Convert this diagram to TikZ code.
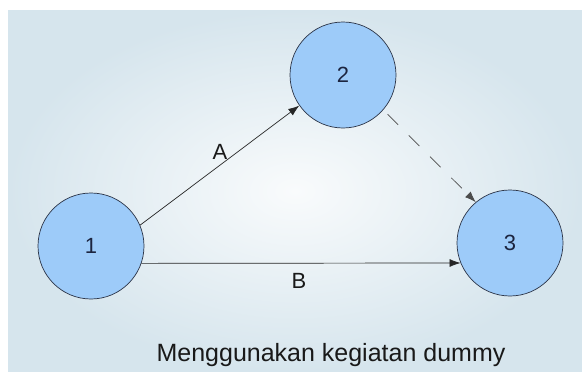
\documentclass[tikz,border=0pt]{standalone}
\usepackage{fontspec}
\setmainfont{Liberation Sans}
\usetikzlibrary{arrows.meta}
\definecolor{nodefill}{HTML}{9DCBF9}
\definecolor{nodeline}{HTML}{2A3346}
\definecolor{numcol}{HTML}{1C2540}
\definecolor{bgedge}{HTML}{D6E5ED}
\definecolor{bgmid}{HTML}{F9FBFC}
\begin{document}
\begin{tikzpicture}[x=1pt,y=-1pt,
  event/.style={circle,draw=nodeline,line width=0.7pt,fill=nodefill,minimum size=106pt,inner sep=0pt,text=numcol,font=\fontsize{22}{26}\selectfont},
  act/.style={draw=black!85,line width=0.7pt,-{Latex[length=11pt,width=8pt]}},
  dummyact/.style={act,draw=black!70,dash pattern=on 15pt off 15pt,shorten <=6pt},
  lbl/.style={font=\fontsize{22}{26}\selectfont,text=black!90,inner sep=0pt},
  captext/.style={font=\fontsize{25}{30}\selectfont,text=black!90,inner sep=0pt}]
\useasboundingbox (0,0) rectangle (582,372);
\fill[white] (0,0) rectangle (582,372);
\shade[inner color=bgmid,outer color=bgedge] (8,10) rectangle (582,372);
\node[event] (n1) at (91,246) {1};
\node[event] (n2) at (343,75) {2};
\node[event] (n3) at (510,243) {3};
\draw[act] (n1.23) -- (n2.215);
\draw[act] (n1.-19) -- (n3.202);
\draw[dummyact] (n2.-41) -- (n3.130);
\node[lbl] (la) at (220,152) {A};
\node[lbl] (lb) at (299,281) {B};
\node[captext] (caption) at (331,355) {Menggunakan kegiatan dummy};
\end{tikzpicture}
\end{document}
